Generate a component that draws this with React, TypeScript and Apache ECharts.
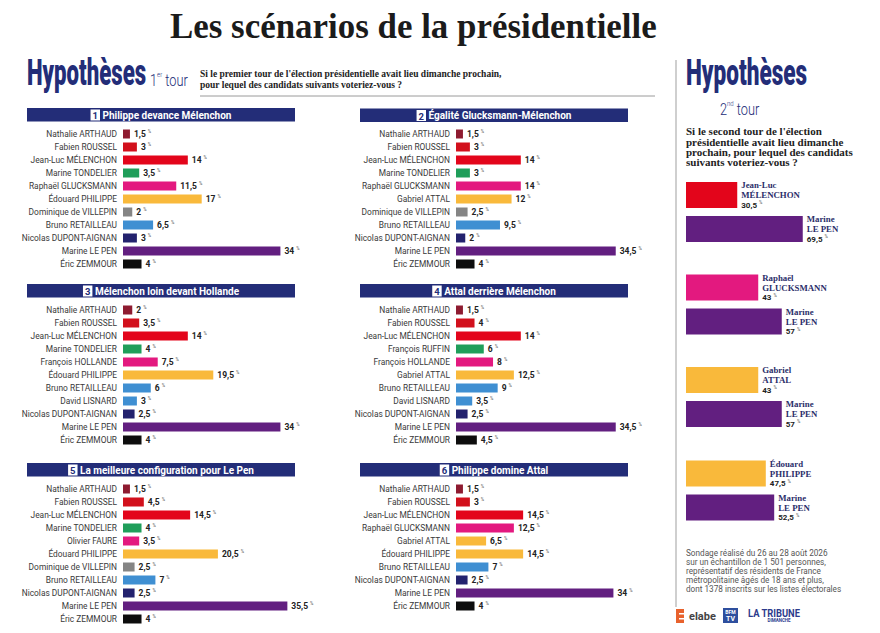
import React, { useEffect, useRef } from "react";
import * as echarts from "echarts";

// ---------- DATA ----------
const panelTitles = [
  "Philippe devance Mélenchon",
  "Égalité Glucksmann-Mélenchon",
  "Mélenchon loin devant Hollande",
  "Attal derrière Mélenchon",
  "La meilleure configuration pour Le Pen",
  "Philippe domine Attal",
];

const p1Names = ["Nathalie ARTHAUD", "Fabien ROUSSEL", "Jean-Luc MÉLENCHON", "Marine TONDELIER", "Raphaël GLUCKSMANN", "Édouard PHILIPPE", "Dominique de VILLEPIN", "Bruno RETAILLEAU", "Nicolas DUPONT-AIGNAN", "Marine LE PEN", "Éric ZEMMOUR"];
const p1Values = [1.5, 3, 14, 3.5, 11.5, 17, 2, 6.5, 3, 34, 4];

const p2Names = ["Nathalie ARTHAUD", "Fabien ROUSSEL", "Jean-Luc MÉLENCHON", "Marine TONDELIER", "Raphaël GLUCKSMANN", "Gabriel ATTAL", "Dominique de VILLEPIN", "Bruno RETAILLEAU", "Nicolas DUPONT-AIGNAN", "Marine LE PEN", "Éric ZEMMOUR"];
const p2Values = [1.5, 3, 14, 3, 14, 12, 2.5, 9.5, 2, 34.5, 4];

const p3Names = ["Nathalie ARTHAUD", "Fabien ROUSSEL", "Jean-Luc MÉLENCHON", "Marine TONDELIER", "François HOLLANDE", "Édouard PHILIPPE", "Bruno RETAILLEAU", "David LISNARD", "Nicolas DUPONT-AIGNAN", "Marine LE PEN", "Éric ZEMMOUR"];
const p3Values = [2, 3.5, 14, 4, 7.5, 19.5, 6, 3, 2.5, 34, 4];

const p4Names = ["Nathalie ARTHAUD", "Fabien ROUSSEL", "Jean-Luc MÉLENCHON", "François RUFFIN", "François HOLLANDE", "Gabriel ATTAL", "Bruno RETAILLEAU", "David LISNARD", "Nicolas DUPONT-AIGNAN", "Marine LE PEN", "Éric ZEMMOUR"];
const p4Values = [1.5, 4, 14, 6, 8, 12.5, 9, 3.5, 2.5, 34.5, 4.5];

const p5Names = ["Nathalie ARTHAUD", "Fabien ROUSSEL", "Jean-Luc MÉLENCHON", "Marine TONDELIER", "Olivier FAURE", "Édouard PHILIPPE", "Dominique de VILLEPIN", "Bruno RETAILLEAU", "Nicolas DUPONT-AIGNAN", "Marine LE PEN", "Éric ZEMMOUR"];
const p5Values = [1.5, 4.5, 14.5, 4, 3.5, 20.5, 2.5, 7, 2.5, 35.5, 4];

const p6Names = ["Nathalie ARTHAUD", "Fabien ROUSSEL", "Jean-Luc MÉLENCHON", "Raphaël GLUCKSMANN", "Gabriel ATTAL", "Édouard PHILIPPE", "Bruno RETAILLEAU", "Nicolas DUPONT-AIGNAN", "Marine LE PEN", "Éric ZEMMOUR"];
const p6Values = [1.5, 3, 14.5, 12.5, 6.5, 14.5, 7, 2.5, 34, 4];

const r1Names = ["Jean-Luc MÉLENCHON", "Marine LE PEN"];
const r1Values = [30.5, 69.5];
const r2Names = ["Raphaël GLUCKSMANN", "Marine LE PEN"];
const r2Values = [43, 57];
const r3Names = ["Gabriel ATTAL", "Marine LE PEN"];
const r3Values = [43, 57];
const r4Names = ["Édouard PHILIPPE", "Marine LE PEN"];
const r4Values = [47.5, 52.5];

const footnoteLines = [
  "Sondage réalisé du 26 au 28 août 2026",
  "sur un échantillon de 1 501 personnes,",
  "représentatif des résidents de France",
  "métropolitaine âgés de 18 ans et plus,",
  "dont 1378 inscrits sur les listes électorales",
];

// ---------- STYLE ----------
const NAVY = "#232d78";
const colorKeys: [string, string][] = [
  ["ARTHAUD", "#8e1b30"],
  ["ROUSSEL", "#d2101c"],
  ["MÉLENCHON", "#e3051b"],
  ["TONDELIER", "#1f9e5a"],
  ["RUFFIN", "#1f9e5a"],
  ["GLUCKSMANN", "#e3197f"],
  ["HOLLANDE", "#e3197f"],
  ["FAURE", "#e3197f"],
  ["PHILIPPE", "#f9b93b"],
  ["ATTAL", "#f9b93b"],
  ["VILLEPIN", "#858585"],
  ["RETAILLEAU", "#3f8fd2"],
  ["LISNARD", "#3f8fd2"],
  ["DUPONT-AIGNAN", "#23226e"],
  ["LE PEN", "#621f80"],
  ["ZEMMOUR", "#0d0d0d"],
];
const colorFor = (n: string) => {
  for (const [k, c] of colorKeys) if (n.includes(k)) return c;
  return "#888";
};
const fmt = (v: number) => String(v).replace(".", ",");

const SCALE = 4.63;
const XMAX = 36;
const ROW = 13;

const panels = [
  { names: p1Names, values: p1Values, left: 123, top: 127.5, hx: 27, hy: 108 },
  { names: p2Names, values: p2Values, left: 456, top: 127.5, hx: 360, hy: 108.5 },
  { names: p3Names, values: p3Values, left: 123, top: 303.5, hx: 27, hy: 284 },
  { names: p4Names, values: p4Values, left: 456, top: 303.5, hx: 360, hy: 284 },
  { names: p5Names, values: p5Values, left: 123, top: 482.5, hx: 27, hy: 463 },
  { names: p6Names, values: p6Values, left: 456, top: 482.5, hx: 360, hy: 463 },
];

const rounds = [
  { names: r1Names, values: r1Values, top: 178 },
  { names: r2Names, values: r2Values, top: 270.5 },
  { names: r3Names, values: r3Values, top: 363 },
  { names: r4Names, values: r4Values, top: 456.5 },
];
const R_LEFT = 686;
const R_SCALE = 1.68;

function buildOption() {
  const grid: any[] = [];
  const xAxis: any[] = [];
  const yAxis: any[] = [];
  const series: any[] = [];

  panels.forEach((p, i) => {
    grid.push({ left: p.left, top: p.top, width: XMAX * SCALE, height: p.names.length * ROW });
    xAxis.push({ gridIndex: i, type: "value", min: 0, max: XMAX, show: false });
    yAxis.push({
      gridIndex: i,
      type: "category",
      inverse: true,
      data: p.names,
      axisLine: { show: false },
      axisTick: { show: false },
      axisLabel: { fontSize: 8.4, color: "#3a3a3a", fontFamily: "Roboto", margin: 6 },
    });
    series.push({
      type: "bar",
      xAxisIndex: i,
      yAxisIndex: i,
      barWidth: 9,
      data: p.values.map((v, j) => ({ value: v, itemStyle: { color: colorFor(p.names[j]) } })),
      label: {
        show: true,
        position: "right",
        distance: 4,
        formatter: (pr: any) => `{v|${fmt(pr.value)}}{p|%}`,
        rich: {
          v: { fontSize: 8.5, fontWeight: "bold", color: "#222", fontFamily: "Roboto", lineHeight: 10 },
          p: { fontSize: 4.5, color: "#555", fontFamily: "Roboto", verticalAlign: "top", lineHeight: 10, padding: [0, 0, 0, 2] },
        },
      },
    });
  });

  rounds.forEach((r, k) => {
    const gi = panels.length + k;
    grid.push({ left: R_LEFT, top: r.top, width: 100 * R_SCALE, height: 68 });
    xAxis.push({ gridIndex: gi, type: "value", min: 0, max: 100, show: false });
    yAxis.push({ gridIndex: gi, type: "category", inverse: true, data: r.names, show: false });
    series.push({
      type: "bar",
      xAxisIndex: gi,
      yAxisIndex: gi,
      barWidth: 26,
      data: r.values.map((v, j) => ({ value: v, itemStyle: { color: colorFor(r.names[j]) } })),
      label: {
        show: true,
        position: "right",
        distance: 4,
        align: "left",
        formatter: (pr: any) => {
          const n: string = pr.name;
          const idx = n.indexOf(" ");
          const first = n.slice(0, idx);
          const last = n.slice(idx + 1);
          return `{n|${first}}\n{n|${last}}\n{v|${fmt(pr.value)}}{p|%}`;
        },
        rich: {
          n: { fontSize: 8.8, fontWeight: "bold", color: "#2b2e6a", fontFamily: "Liberation Serif", lineHeight: 10 },
          v: { fontSize: 8, fontWeight: "bold", color: "#222", fontFamily: "Roboto", lineHeight: 10 },
          p: { fontSize: 4.5, color: "#555", fontFamily: "Roboto", verticalAlign: "top", lineHeight: 10, padding: [0, 0, 0, 2] },
        },
      },
    });
  });

  const T = (o: any) => ({ type: "text", silent: true, ...o });
  const elements: any[] = [];

  // main title
  elements.push(T({
    x: 170, y: 8, scaleX: 0.97,
    style: { text: "Les scénarios de la présidentielle", font: 'bold 36px "Liberation Serif"', fill: "#1b1b1b", textVerticalAlign: "top", verticalAlign: "top" },
  }));

  // left header
  elements.push(T({
    x: 27, y: 54, scaleX: 0.6,
    style: { text: "Hypothèses", font: '900 37px "Roboto"', fill: NAVY, textVerticalAlign: "top", verticalAlign: "top" },
  }));
  elements.push(T({
    x: 150, y: 70, scaleX: 0.75,
    style: {
      text: "{a|1}{b|er}{c| tour}",
      textVerticalAlign: "top", verticalAlign: "top",
      rich: {
        a: { font: '300 17px "Roboto"', fill: NAVY, color: NAVY, lineHeight: 20 },
        b: { font: '300 8px "Roboto"', fill: NAVY, color: NAVY, verticalAlign: "top", lineHeight: 20 },
        c: { font: '300 17px "Roboto"', fill: NAVY, color: NAVY, lineHeight: 20 },
      },
    },
  }));
  elements.push(T({
    x: 200, y: 68,
    style: {
      text: "Si le premier tour de l'élection présidentielle avait lieu dimanche prochain,\npour lequel des candidats suivants voteriez-vous ?",
      font: 'bold 9.5px "Liberation Serif"', fill: "#222", lineHeight: 11.5, textVerticalAlign: "top", verticalAlign: "top",
    },
  }));
  elements.push({ type: "line", silent: true, shape: { x1: 200, y1: 96, x2: 655, y2: 96 }, style: { stroke: "#9a9a9a", lineWidth: 1 } });

  // panel headers
  panels.forEach((p, i) => {
    elements.push({ type: "rect", silent: true, shape: { x: p.hx, y: p.hy, width: 268, height: 13.5 }, style: { fill: NAVY } });
    elements.push(T({
      x: p.hx + 134, y: p.hy + 7,
      style: {
        text: `{n|${i + 1}}{t| ${panelTitles[i]}}`,
        textAlign: "center", align: "center", textVerticalAlign: "middle", verticalAlign: "middle",
        rich: {
          n: { fontSize: 9.5, fontWeight: "bold", color: NAVY, fill: NAVY, backgroundColor: "#fff", padding: [1, 2, 0, 2], fontFamily: "Roboto" },
          t: { fontSize: 10, fontWeight: "bold", color: "#fff", fill: "#fff", fontFamily: "Roboto" },
        },
      },
    }));
  });

  // right column
  elements.push({ type: "line", silent: true, shape: { x1: 676, y1: 60, x2: 676, y2: 607 }, style: { stroke: "#cfcfcf", lineWidth: 2 } });
  elements.push(T({
    x: 686, y: 54, scaleX: 0.61,
    style: { text: "Hypothèses", font: '900 37px "Roboto"', fill: NAVY, textVerticalAlign: "top", verticalAlign: "top" },
  }));
  elements.push(T({
    x: 720, y: 99, scaleX: 0.75,
    style: {
      text: "{a|2}{b|nd}{c| tour}",
      textVerticalAlign: "top", verticalAlign: "top",
      rich: {
        a: { font: '300 17px "Roboto"', fill: NAVY, color: NAVY, lineHeight: 20 },
        b: { font: '300 8px "Roboto"', fill: NAVY, color: NAVY, verticalAlign: "top", lineHeight: 20 },
        c: { font: '300 17px "Roboto"', fill: NAVY, color: NAVY, lineHeight: 20 },
      },
    },
  }));
  elements.push(T({
    x: 686, y: 126,
    style: {
      text: "Si le second tour de l'élection\nprésidentielle avait lieu dimanche\nprochain, pour lequel des candidats\nsuivants voteriez-vous ?",
      font: 'bold 11px "Liberation Serif"', fill: "#222", lineHeight: 10.4, textVerticalAlign: "top", verticalAlign: "top",
    },
  }));
  elements.push(T({
    x: 686, y: 549,
    style: {
      text: footnoteLines.join("\n"),
      font: '8.2px "Roboto"', fill: "#555", lineHeight: 8.8, textVerticalAlign: "top", verticalAlign: "top",
    },
  }));

  // logos
  elements.push({ type: "rect", silent: true, shape: { x: 676, y: 609, width: 8, height: 14 }, style: { fill: "#e8622d" } });
  elements.push({ type: "rect", silent: true, shape: { x: 679, y: 613, width: 5, height: 1.5 }, style: { fill: "#fff" } });
  elements.push({ type: "rect", silent: true, shape: { x: 679, y: 618, width: 5, height: 1.5 }, style: { fill: "#fff" } });
  elements.push(T({ x: 689, y: 616, style: { text: "elabe", font: 'bold 11px "Roboto"', fill: "#444", textVerticalAlign: "middle", verticalAlign: "middle" } }));
  elements.push({ type: "rect", silent: true, shape: { x: 723, y: 608, width: 15, height: 15 }, style: { fill: "#2e4f9e" } });
  elements.push(T({ x: 730.5, y: 612, style: { text: "BFM", font: 'bold 5px "Roboto"', fill: "#fff", textAlign: "center", align: "center", textVerticalAlign: "middle", verticalAlign: "middle" } }));
  elements.push(T({ x: 730.5, y: 619, style: { text: "TV", font: 'bold 7px "Roboto"', fill: "#fff", textAlign: "center", align: "center", textVerticalAlign: "middle", verticalAlign: "middle" } }));
  elements.push(T({ x: 748, y: 613, scaleX: 0.85, style: { text: "LA TRIBUNE", font: 'bold 11px "Roboto"', fill: "#2c3b8c", textVerticalAlign: "middle", verticalAlign: "middle" } }));
  elements.push(T({ x: 779, y: 620, style: { text: "DIMANCHE", font: 'bold 4.5px "Roboto"', fill: "#2c3b8c", textAlign: "center", align: "center", textVerticalAlign: "middle", verticalAlign: "middle" } }));

  return {
    animation: false,
    backgroundColor: "#ffffff",
    grid,
    xAxis,
    yAxis,
    series,
    graphic: { elements },
  };
}

export default function App() {
  const ref = useRef<HTMLDivElement>(null);
  useEffect(() => {
    if (!ref.current) return;
    const chart = echarts.init(ref.current, null, { renderer: "svg" });
    chart.setOption(buildOption() as any);
    return () => chart.dispose();
  }, []);
  return (
    <div
      ref={ref}
      style={{ position: "absolute", left: 0, top: 0, width: 880, height: 633, background: "#fff" }}
    />
  );
}
